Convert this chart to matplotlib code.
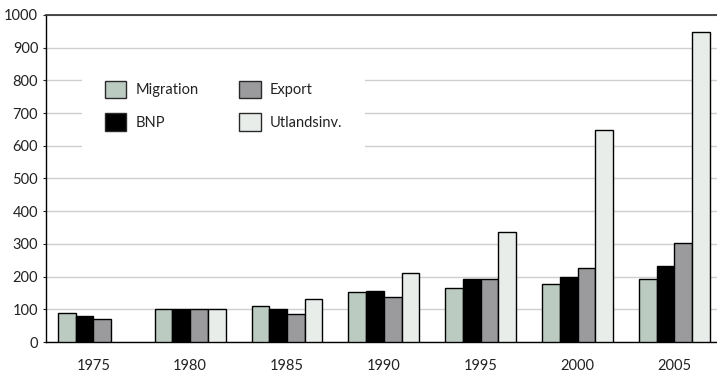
import numpy as np
import matplotlib
matplotlib.use("Agg")
import matplotlib.pyplot as plt
from matplotlib.patches import Patch

plt.rcParams['font.family'] = ['Lato', 'DejaVu Sans']

years = ["1975", "1980", "1985", "1990", "1995", "2000", "2005"]
migration = [90, 100, 111, 154, 166, 177, 194]
bnp = [80, 100, 101, 155, 194, 199, 233]
export = [69, 100, 86, 138, 193, 227, 302]
utlandsinv = [np.nan, 100, 132, 212, 336, 647, 948]

series = [
    ("Migration", migration, "#bccbc2"),
    ("BNP", bnp, "#000000"),
    ("Export", export, "#9b9b9d"),
    ("Utlandsinv.", utlandsinv, "#e8edea"),
]

fig = plt.figure(figsize=(7.17, 3.73), dpi=100)
ax = fig.add_axes([0.064, 0.083, 0.936, 0.877])

x = np.arange(len(years))
w = 0.183
for k, (name, vals, col) in enumerate(series):
    ax.bar(x + (k - 1.5) * w, vals, width=w, color=col, edgecolor="black",
           linewidth=1.0, zorder=3)

ax.set_xlim(-0.49, 6.44)
ax.set_ylim(0, 1000)
ax.set_yticks(np.arange(0, 1001, 100))
ax.set_xticks(x)
ax.set_xticklabels(years)

ax.yaxis.grid(True, color="#cfcfcf", linewidth=1.0, zorder=0)
ax.set_axisbelow(True)

ax.spines['right'].set_visible(False)
ax.spines['top'].set_color("#3a3a3a")
ax.spines['top'].set_linewidth(1.3)
ax.spines['left'].set_color("black")
ax.spines['left'].set_linewidth(1.0)
ax.spines['bottom'].set_color("black")
ax.spines['bottom'].set_linewidth(1.0)

ax.tick_params(axis='x', length=0, pad=12, labelsize=10.5, colors="#222222")
ax.tick_params(axis='y', length=2.5, width=0.8, pad=3, labelsize=10.5,
               colors="#222222")

handles = [Patch(facecolor=col, edgecolor="#2a2a2a", linewidth=1.0, label=name)
           for name, _, col in series]
leg = ax.legend(handles=handles, ncol=2, loc="upper left",
                bbox_to_anchor=(0.0537, 0.868), fontsize=10.5,
                frameon=True, fancybox=False, framealpha=1.0,
                facecolor="white", edgecolor="none",
                handlelength=1.5, handleheight=1.5, handletextpad=0.6,
                labelspacing=1.0, columnspacing=2.8, borderpad=1.55,
                borderaxespad=0)
for t in leg.get_texts():
    t.set_color("#222222")
leg.set_zorder(5)

fig.savefig("out.png", dpi=100)
